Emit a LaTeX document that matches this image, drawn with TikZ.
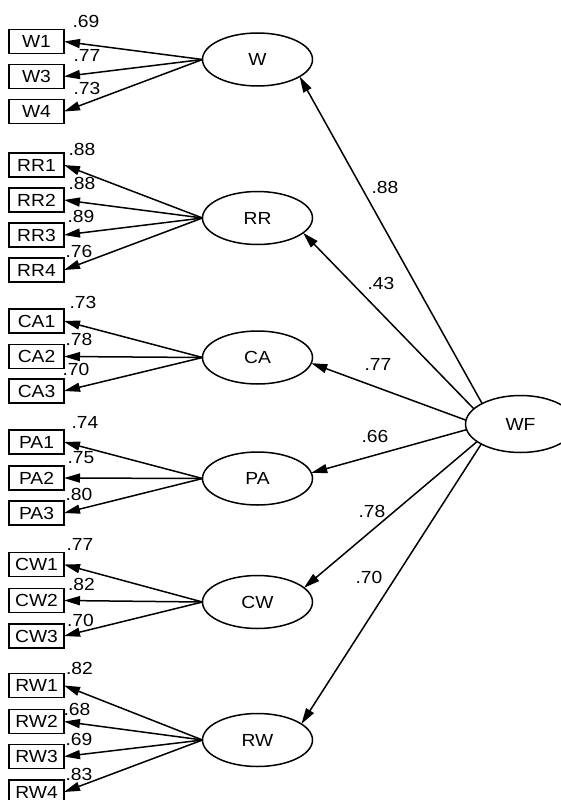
\documentclass[tikz,border=0pt]{standalone}
\usepackage{fontspec}
\setmainfont[FakeStretch=1.1]{Liberation Sans}
\usetikzlibrary{arrows.meta,shapes.geometric}
\begin{document}
\begin{tikzpicture}[x=1pt,y=-1pt,
  txt/.style={font=\fontsize{17.5}{19}\selectfont},
  obs/.style={txt,draw,line width=1.6pt,minimum width=55pt,minimum height=24pt,inner sep=0pt,outer sep=0pt,fill=white},
  lat/.style={txt,draw,ellipse,line width=1.5pt,minimum width=110pt,minimum height=53pt,inner sep=0pt,outer sep=0pt,fill=white},
  arr/.style={line width=1.5pt,-{Triangle[length=16pt,width=9pt]}},
  lbl/.style={txt,inner sep=0pt}
]
\clip (0,0) rectangle (561,800);
\fill[white] (0,0) rectangle (561,800);

% latent variables
\node[lat] (W)  at (257.5,59.5) {W};
\node[lat] (RR) at (257.5,218) {RR};
\node[lat] (CA) at (257.5,357.5) {CA};
\node[lat] (PA) at (257.5,478.5) {PA};
\node[lat] (CW) at (257.5,602) {CW};
\node[lat] (RW) at (257.5,740) {RW};
\node[lat,minimum height=57pt] (WF) at (520.5,424) {WF};

% observed variables
\node[obs] (W1) at (36.5,41.5) {W1};
\node[obs] (W3) at (36.5,76.5) {W3};
\node[obs] (W4) at (36.5,111.5) {W4};
\node[obs] (RR1) at (36.5,165) {RR1};
\node[obs] (RR2) at (36.5,200) {RR2};
\node[obs] (RR3) at (36.5,235) {RR3};
\node[obs] (RR4) at (36.5,270) {RR4};
\node[obs] (CA1) at (36.5,321) {CA1};
\node[obs] (CA2) at (36.5,356.5) {CA2};
\node[obs] (CA3) at (36.5,391) {CA3};
\node[obs] (PA1) at (36.5,442) {PA1};
\node[obs] (PA2) at (36.5,478) {PA2};
\node[obs] (PA3) at (36.5,513) {PA3};
\node[obs] (CW1) at (36.5,564.5) {CW1};
\node[obs] (CW2) at (36.5,600.5) {CW2};
\node[obs] (CW3) at (36.5,636) {CW3};
\node[obs] (RW1) at (36.5,685.5) {RW1};
\node[obs] (RW2) at (36.5,721.5) {RW2};
\node[obs] (RW3) at (36.5,756.5) {RW3};
\node[obs] (RW4) at (36.5,792) {RW4};

% measurement paths
\foreach \l/\o in {W/W1,W/W3,W/W4,RR/RR1,RR/RR2,RR/RR3,RR/RR4,CA/CA1,CA/CA2,CA/CA3,PA/PA1,PA/PA2,PA/PA3,CW/CW1,CW/CW2,CW/CW3,RW/RW1,RW/RW2,RW/RW3,RW/RW4}
  \draw[arr] (\l.west) -- (\o.east);

% structural paths
\draw[arr] (WF.152) -- (W.338);
\draw[arr] (WF.162) -- (RR.342);
\draw[arr] (WF.176) -- (CA.354);
\draw[arr] (WF.186) -- (PA.6);
\draw[arr] (WF.202) -- (CW.17);
\draw[arr] (WF.207) -- (RW.20);

% loadings
\node[lbl] (lW1) at (86,21) {.69};
\node[lbl] (lW3) at (87,55) {.77};
\node[lbl] (lW4) at (87,88) {.73};
\node[lbl] (lRR1) at (82,149) {.88};
\node[lbl] (lRR2) at (82,183) {.88};
\node[lbl] (lRR3) at (81,216) {.89};
\node[lbl] (lRR4) at (79,251) {.76};
\node[lbl] (lCA1) at (83,302) {.73};
\node[lbl] (lCA2) at (79,339) {.78};
\node[lbl] (lCA3) at (76,369) {.70};
\node[lbl] (lPA1) at (85,422) {.74};
\node[lbl] (lPA2) at (81,458) {.75};
\node[lbl] (lPA3) at (79,494) {.80};
\node[lbl] (lCW1) at (80,544) {.77};
\node[lbl] (lCW2) at (81.5,584) {.82};
\node[lbl] (lCW3) at (80.5,620) {.70};
\node[lbl] (lRW1) at (79.5,668) {.82};
\node[lbl] (lRW2) at (77,709) {.68};
\node[lbl] (lRW3) at (79,739) {.69};
\node[lbl] (lRW4) at (79,774) {.83};

% structural coefficients
\node[lbl] (sW)  at (385,187) {.88};
\node[lbl] (sRR) at (381,283) {.43};
\node[lbl] (sCA) at (378,364) {.77};
\node[lbl] (sPA) at (375,436) {.66};
\node[lbl] (sCW) at (372,511) {.78};
\node[lbl] (sRW) at (369,577) {.70};
\end{tikzpicture}
\end{document}
